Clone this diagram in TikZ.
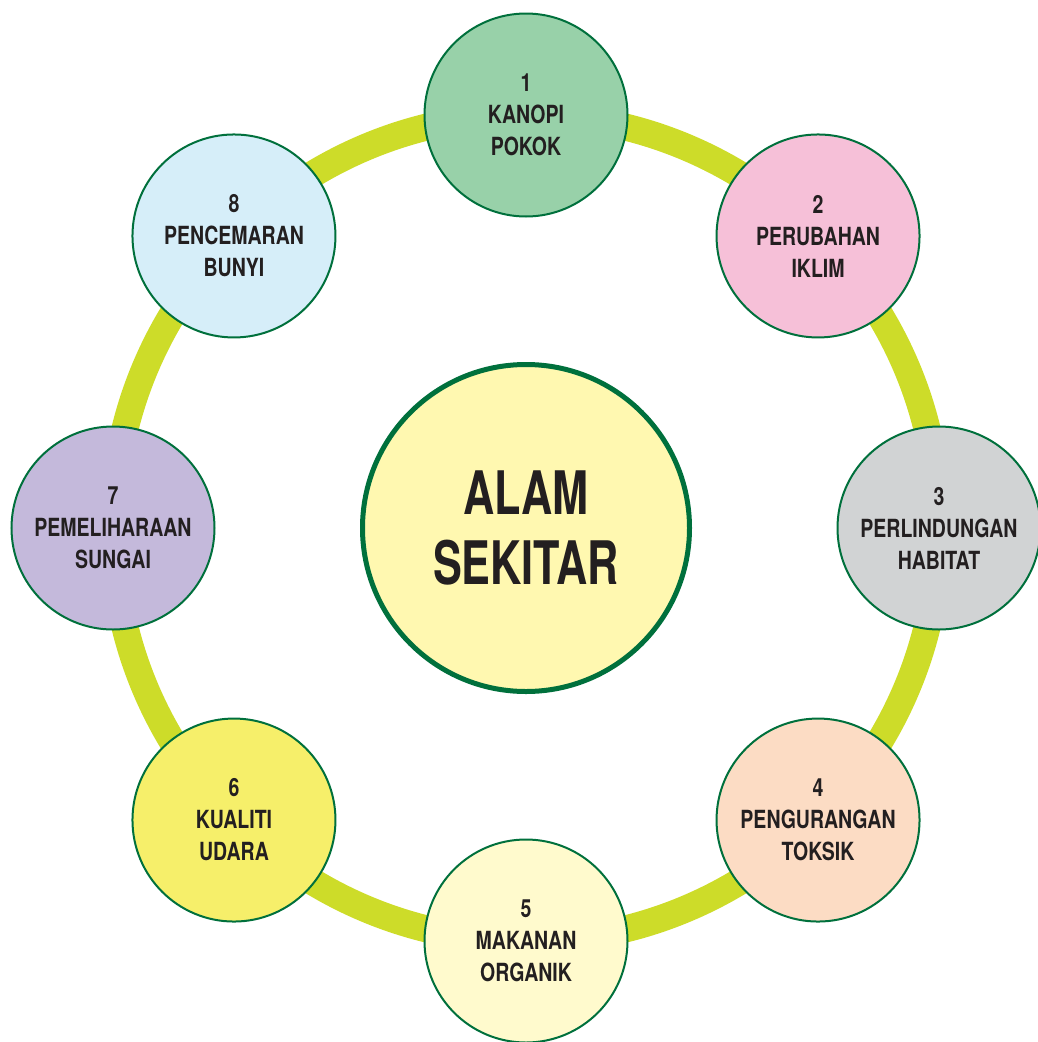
\documentclass[tikz,border=0pt]{standalone}
\usepackage{fontspec}
\newfontfamily\kreisfont[FakeStretch=0.78]{TeX Gyre Heros}
\newfontfamily\mittefont[FakeStretch=0.72]{TeX Gyre Heros}
\usepackage{tikz}
\usetikzlibrary{calc}
\definecolor{ringgruen}{HTML}{CDDC29}
\definecolor{rand}{HTML}{00703C}
\definecolor{schrift}{HTML}{231F20}
\definecolor{mittegelb}{HTML}{FFF8B0}
\definecolor{mint}{HTML}{98D1A9}
\definecolor{rosa}{HTML}{F6C0D8}
\definecolor{grau}{HTML}{D1D3D4}
\definecolor{pfirsich}{HTML}{FCDCC4}
\definecolor{creme}{HTML}{FFFACD}
\definecolor{gelb}{HTML}{F6EF6A}
\definecolor{lila}{HTML}{C4B9DB}
\definecolor{hellblau}{HTML}{D6EEF9}

\begin{document}
\begin{tikzpicture}[x=1pt, y=-1pt,
  kreis/.style={circle, draw=rand, line width=2pt, minimum size=203pt, inner sep=0pt,
    align=center, text=schrift, font=\kreisfont\bfseries\fontsize{25}{32}\selectfont},
  mitte/.style={circle, draw=rand, line width=5pt, minimum size=327pt, inner sep=0pt,
    fill=mittegelb, align=center, text=schrift, font=\mittefont\bfseries\fontsize{60}{70}\selectfont}
]
\def\rring{413}
\useasboundingbox (0,0) rectangle (1038,1042);

% Mittelpunkt
\coordinate (m) at (526,528);

% Ring
\draw[ringgruen, line width=27pt] (m) circle[radius=\rring pt];

% Mitte
\node[mitte] (mitte) at (m) {ALAM\\SEKITAR};

% Kreise
\foreach \i/\farbe/\txt in {1/mint/{KANOPI\\POKOK}, 2/rosa/{PERUBAHAN\\IKLIM},
  3/grau/{PERLINDUNGAN\\HABITAT}, 4/pfirsich/{PENGURANGAN\\TOKSIK},
  5/creme/{MAKANAN\\ORGANIK}, 6/gelb/{KUALITI\\UDARA},
  7/lila/{PEMELIHARAAN\\SUNGAI}, 8/hellblau/{PENCEMARAN\\BUNYI}}
\node[kreis, fill=\farbe] (k\i) at ($(m)+({90-(\i-1)*45}:\rring pt)$) {\i\\\txt};
\end{tikzpicture}
\end{document}
